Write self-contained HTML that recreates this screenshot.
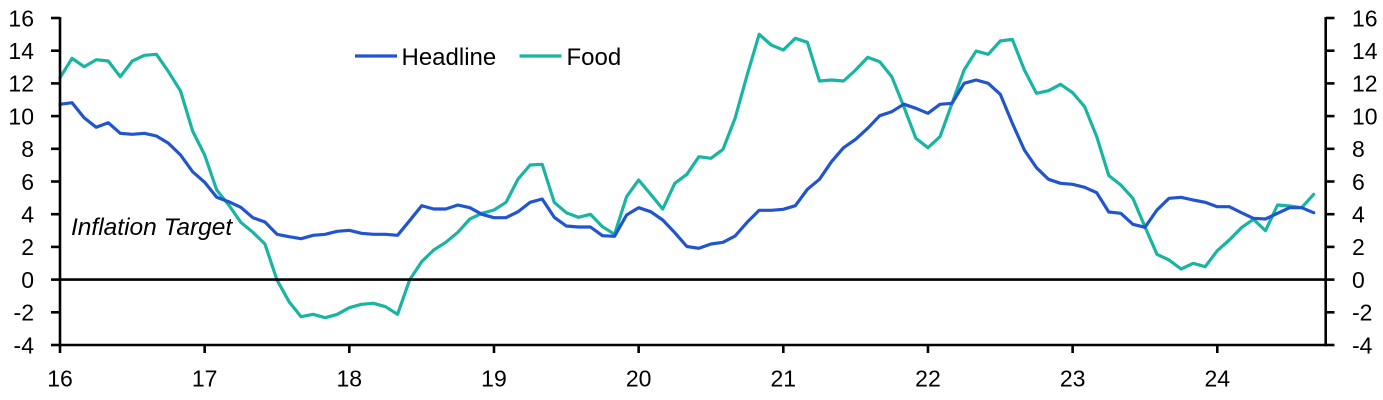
<!DOCTYPE html>
<html>
<head>
<meta charset="utf-8">
<style>
  html, body { margin: 0; padding: 0; background: #ffffff; }
  svg { display: block; }
  text { font-family: "Liberation Sans", "DejaVu Sans", sans-serif; fill: #000; }
</style>
</head>
<body>
<svg width="1383" height="400" viewBox="0 0 1383 400" xmlns="http://www.w3.org/2000/svg">
  <rect x="0" y="0" width="1383" height="400" fill="#ffffff"/>

  <!-- series -->
  <g transform="translate(60,0) scale(12.0548,1)">
    <polyline fill="none" stroke="#19b4a2" stroke-width="3.2" stroke-linejoin="round" stroke-linecap="round" vector-effect="non-scaling-stroke"
      points="0,77.7 1,58.3 2,66.7 3,59.7 4,61 5,76.7 6,61 7,55.3 8,54.3 9,71.7 10,91 11,131 12,155 13,190 14,205 15,222.3 16,232.3 17,244 18,280 19,301.7 20,316.7 21,314.3 22,317.7 23,314.3 24,307.7 25,304.3 26,303.3 27,306.7 28,314.3 29,280 30,261.7 31,250 32,242.3 33,232.3 34,219 35,213.3 36,210 37,202.3 38,179 39,165 40,164.3 41,202.3 42,212.7 43,217.3 44,214.3 45,226.7 46,234.3 47,196.7 48,180 49,194.3 50,209 51,183.3 52,174.3 53,156.7 54,158.3 55,149.3 56,118.3 57,75 58,34.3 59,45 60,50 61,38.3 62,42.3 63,81 64,80 65,81 66,70 67,57.3 68,61.7 69,76.7 70,106.7 71,138.3 72,147.7 73,136.7 74,103.3 75,70 76,51 77,54.3 78,41 79,39.3 80,70 81,93.3 82,90.7 83,84.3 84,92.7 85,106.7 86,136.7 87,175.5 88,185 89,198.3 90,226.7 91,254.3 92,260 93,269 94,263.3 95,266.7 96,250.7 97,240 98,227.7 99,219.3 100,230.7 101,205 102,206 103,207.7 104,194.3"/>
    <polyline fill="none" stroke="#2155cf" stroke-width="3.2" stroke-linejoin="round" stroke-linecap="round" vector-effect="non-scaling-stroke"
      points="0,104.3 1,102.7 2,117.7 3,127.3 4,122.7 5,133.3 6,134.3 7,133.3 8,136 9,143.3 10,155 11,171.7 12,182.3 13,197.3 14,201.7 15,207.3 16,217.7 17,222 18,234.3 19,236.7 20,238.7 21,235.3 22,234.3 23,231.3 24,230.3 25,233.3 26,234.3 27,234.3 28,235.3 29,220.7 30,205.7 31,209 32,209 33,205 34,207.7 35,214.3 36,217.7 37,217.7 38,211.7 39,202.3 40,199 41,217.3 42,226 43,227 44,227 45,235.7 46,236.3 47,215 48,207.7 49,211.7 50,220 51,232.7 52,246.5 53,248.3 54,244 55,242.3 56,236 57,222.3 58,210.3 59,210.3 60,209.3 61,205.7 62,189.3 63,179.3 64,161.7 65,147.7 66,139.3 67,128.3 68,115.7 69,111.7 70,104.2 71,108.3 72,113.3 73,104.3 74,103.3 75,83.3 76,80 77,83.3 78,94.3 79,123.3 80,150 81,167.7 82,179.3 83,183.3 84,184.3 85,187.3 86,192.7 87,212 88,213.3 89,224.3 90,227.3 91,210 92,198.3 93,197.3 94,200 95,202.3 96,206.7 97,206.7 98,212.7 99,218.3 100,219 101,213.3 102,207.7 103,207.7 104,212.7"/>
  </g>

  <!-- zero line -->
  <line x1="60" y1="279.6" x2="1325.7" y2="279.6" stroke="#000" stroke-width="2.6"/>

  <!-- axes -->
  <g stroke="#000" stroke-width="2.6" fill="none">
    <line x1="60" y1="17" x2="60" y2="346.3"/>
    <line x1="1325.7" y1="17" x2="1325.7" y2="346.3"/>
    <line x1="58.7" y1="345" x2="1327" y2="345"/>
    <!-- left ticks -->
    <line x1="51" y1="18" x2="60" y2="18"/>
    <line x1="51" y1="50.7" x2="60" y2="50.7"/>
    <line x1="51" y1="83.4" x2="60" y2="83.4"/>
    <line x1="51" y1="116.1" x2="60" y2="116.1"/>
    <line x1="51" y1="148.8" x2="60" y2="148.8"/>
    <line x1="51" y1="181.5" x2="60" y2="181.5"/>
    <line x1="51" y1="214.2" x2="60" y2="214.2"/>
    <line x1="51" y1="246.9" x2="60" y2="246.9"/>
    <line x1="51" y1="279.6" x2="60" y2="279.6"/>
    <line x1="51" y1="312.3" x2="60" y2="312.3"/>
    <line x1="51" y1="345" x2="60" y2="345"/>
    <!-- right ticks -->
    <line x1="1325.7" y1="18" x2="1334.5" y2="18"/>
    <line x1="1325.7" y1="50.7" x2="1334.5" y2="50.7"/>
    <line x1="1325.7" y1="83.4" x2="1334.5" y2="83.4"/>
    <line x1="1325.7" y1="116.1" x2="1334.5" y2="116.1"/>
    <line x1="1325.7" y1="148.8" x2="1334.5" y2="148.8"/>
    <line x1="1325.7" y1="181.5" x2="1334.5" y2="181.5"/>
    <line x1="1325.7" y1="214.2" x2="1334.5" y2="214.2"/>
    <line x1="1325.7" y1="246.9" x2="1334.5" y2="246.9"/>
    <line x1="1325.7" y1="279.6" x2="1334.5" y2="279.6"/>
    <line x1="1325.7" y1="312.3" x2="1334.5" y2="312.3"/>
    <line x1="1325.7" y1="345" x2="1334.5" y2="345"/>
    <!-- bottom ticks -->
    <line x1="60" y1="345" x2="60" y2="353"/>
    <line x1="204.66" y1="345" x2="204.66" y2="353"/>
    <line x1="349.32" y1="345" x2="349.32" y2="353"/>
    <line x1="493.98" y1="345" x2="493.98" y2="353"/>
    <line x1="638.64" y1="345" x2="638.64" y2="353"/>
    <line x1="783.3" y1="345" x2="783.3" y2="353"/>
    <line x1="927.96" y1="345" x2="927.96" y2="353"/>
    <line x1="1072.62" y1="345" x2="1072.62" y2="353"/>
    <line x1="1217.28" y1="345" x2="1217.28" y2="353"/>
  </g>

  <!-- left labels -->
  <g font-size="23" text-anchor="end">
    <text x="34" y="26.3">16</text>
    <text x="34" y="59">14</text>
    <text x="34" y="91.7">12</text>
    <text x="34" y="124.4">10</text>
    <text x="34" y="157.1">8</text>
    <text x="34" y="189.8">6</text>
    <text x="34" y="222.5">4</text>
    <text x="34" y="255.2">2</text>
    <text x="34" y="287.9">0</text>
    <text x="34" y="320.6">-2</text>
    <text x="34" y="353.3">-4</text>
  </g>

  <!-- right labels -->
  <g font-size="23" text-anchor="start">
    <text x="1352" y="26.3">16</text>
    <text x="1352" y="59">14</text>
    <text x="1352" y="91.7">12</text>
    <text x="1352" y="124.4">10</text>
    <text x="1352" y="157.1">8</text>
    <text x="1352" y="189.8">6</text>
    <text x="1352" y="222.5">4</text>
    <text x="1352" y="255.2">2</text>
    <text x="1352" y="287.9">0</text>
    <text x="1352" y="320.6">-2</text>
    <text x="1352" y="353.3">-4</text>
  </g>

  <!-- x labels -->
  <g font-size="23" text-anchor="middle">
    <text x="60" y="386.7">16</text>
    <text x="204.66" y="386.7">17</text>
    <text x="349.32" y="386.7">18</text>
    <text x="493.98" y="386.7">19</text>
    <text x="638.64" y="386.7">20</text>
    <text x="783.3" y="386.7">21</text>
    <text x="927.96" y="386.7">22</text>
    <text x="1072.62" y="386.7">23</text>
    <text x="1217.28" y="386.7">24</text>
  </g>

  <!-- legend -->
  <line x1="355" y1="56" x2="397" y2="56" stroke="#2155cf" stroke-width="3.2"/>
  <text x="401.5" y="65" font-size="24">Headline</text>
  <line x1="519.5" y1="56" x2="561.5" y2="56" stroke="#19b4a2" stroke-width="3.2"/>
  <text x="566.5" y="65" font-size="24">Food</text>

  <!-- annotation -->
  <text x="71" y="235" font-size="24.5" font-style="italic">Inflation Target</text>
</svg>
</body>
</html>
